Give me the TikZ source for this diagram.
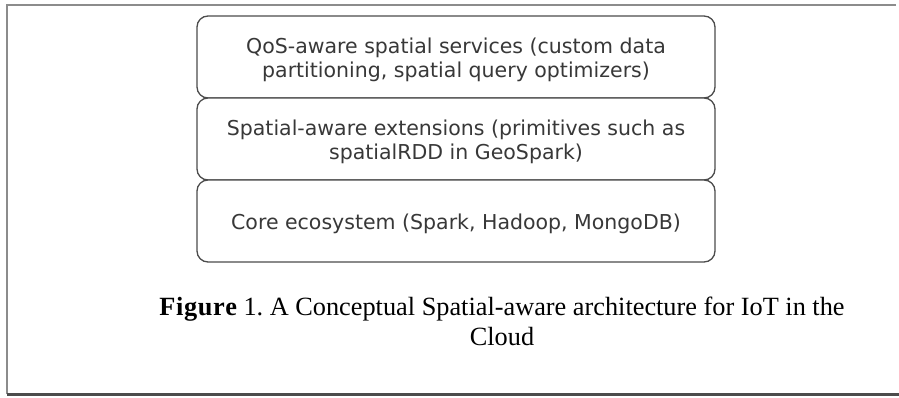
\documentclass[tikz,border=0pt]{standalone}
\usepackage{fontspec}
\setmainfont{Liberation Serif}
\newfontfamily\boxfont{DejaVu Sans}
\frenchspacing
\begin{document}
\begin{tikzpicture}[x=1pt,y=-1pt,
  layer/.style={draw=black!70, line width=1.3pt, rounded corners=11pt, fill=white,
    minimum width=518pt, minimum height=82pt},
  layertext/.style={align=center, inner sep=0pt, text=black!78,
    font=\boxfont\fontsize{20.5}{24.5}\selectfont},
  caption/.style={align=center, font=\fontsize{26.3}{30}\selectfont, text=black}]
\useasboundingbox (0,0) rectangle (899,397);
% outer frame
\draw[black!45, line width=1.2pt] (896,5) -- (7,5) -- (7,394);
\draw[black!70, line width=2.4pt] (7,394.5) -- (899,394.5);
% stacked layers
\node[layer] (qos) at (456,57) {};
\node[layer] (ext) at (456,139) {};
\node[layer] (core) at (456,221) {};
\node[layertext] (qost) at ([yshift=-3pt]qos.center) {QoS-aware spatial services (custom data\\partitioning, spatial query optimizers)};
\node[layertext] (extt) at ([yshift=-3pt]ext.center) {Spatial-aware extensions (primitives such as\\spatialRDD in GeoSpark)};
\node[layertext] (coret) at ([yshift=-2.5pt]core.center) {Core ecosystem (Spark, Hadoop, MongoDB)};
% caption
\node[caption] (cap) at (502,321) {{\bfseries F\kern0.6pt i\kern0.6pt g\kern0.6pt u\kern0.6pt r\kern0.6pt e} 1. A Conceptual Spatial-aware architecture for IoT in the\\Cloud};
\end{tikzpicture}
\end{document}
